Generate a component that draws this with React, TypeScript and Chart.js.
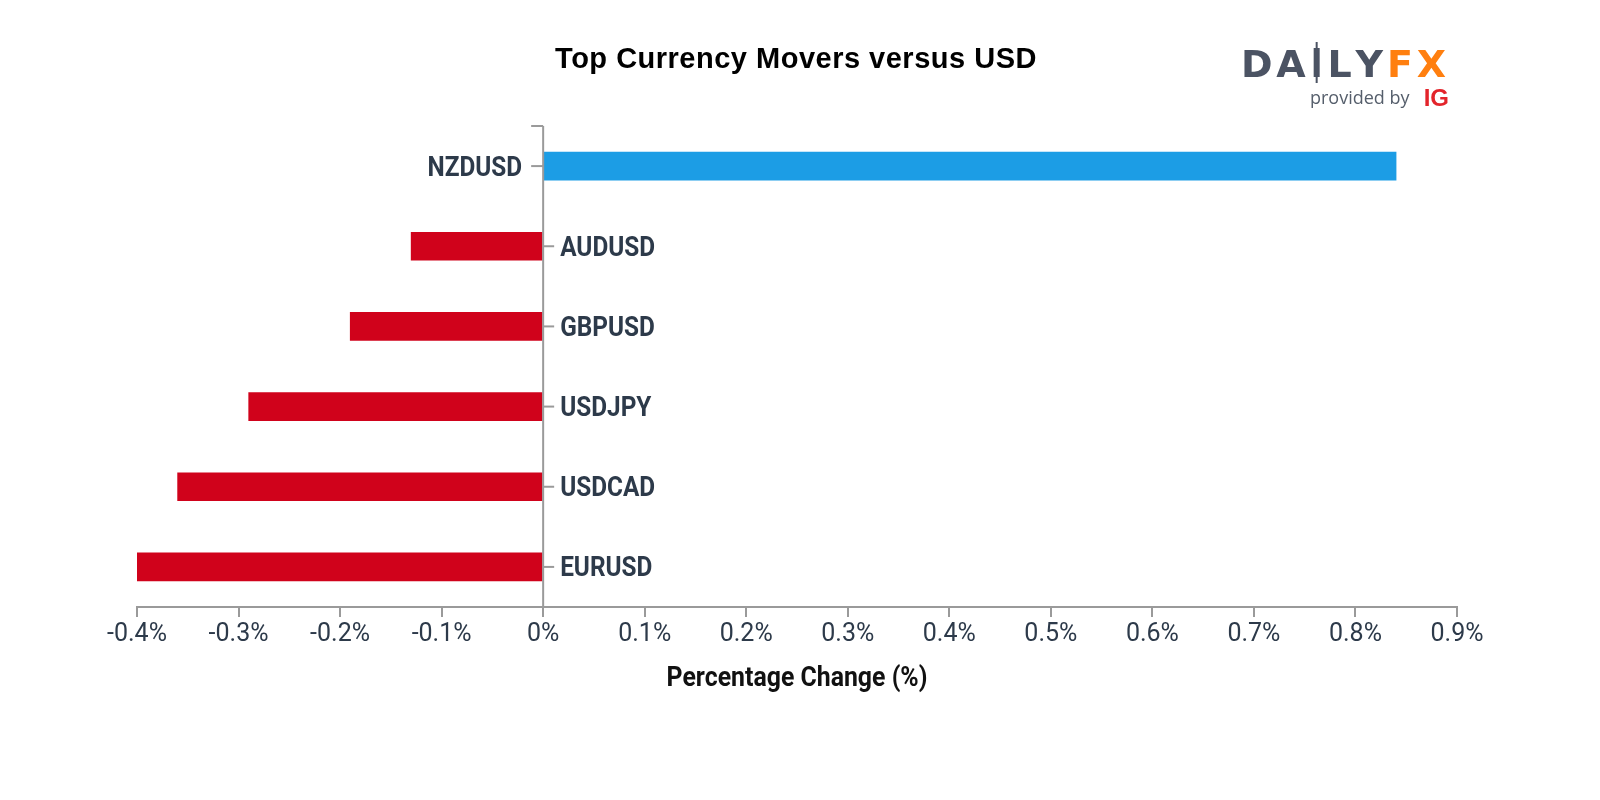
import { useEffect, useRef } from 'react';
import { Chart, registerables } from 'chart.js';

Chart.register(...registerables);

const categories = ['NZDUSD', 'AUDUSD', 'GBPUSD', 'USDJPY', 'USDCAD', 'EURUSD'];
const changes = [0.84, -0.13, -0.19, -0.29, -0.36, -0.4];
const xTickLabels = ['-0.4%', '-0.3%', '-0.2%', '-0.1%', '0%', '0.1%', '0.2%', '0.3%', '0.4%', '0.5%', '0.6%', '0.7%', '0.8%', '0.9%'];
const chartTitle = 'Top Currency Movers versus USD';
const xAxisTitle = 'Percentage Change (%)';

const POS_COLOR = '#1c9de5';
const NEG_COLOR = '#d0021b';
const TEXT_COLOR = '#2d3a4a';
const AXIS_COLOR = '#9a9a9a';

function drawScaledText(ctx: CanvasRenderingContext2D, text: string, x: number, y: number, font: string, sx: number, align: 'left' | 'right' | 'center', color: string) {
  ctx.save();
  ctx.font = font;
  ctx.fillStyle = color;
  ctx.textBaseline = 'alphabetic';
  const w = ctx.measureText(text).width * sx;
  const left = align === 'left' ? x : align === 'right' ? x - w : x - w / 2;
  ctx.translate(left, y);
  ctx.scale(sx, 1);
  ctx.textAlign = 'left';
  ctx.fillText(text, 0, 0);
  ctx.restore();
}

const overlayPlugin = {
  id: 'overlay',
  afterDraw(chart: any) {
    const ctx: CanvasRenderingContext2D = chart.ctx;
    const { chartArea } = chart;
    const xs = chart.scales.x;
    const ys = chart.scales.y;
    const zeroX = xs.getPixelForValue(0);

    // vertical zero axis
    ctx.save();
    ctx.strokeStyle = AXIS_COLOR;
    ctx.lineWidth = 2;
    ctx.beginPath();
    ctx.moveTo(zeroX, chartArea.top);
    ctx.lineTo(zeroX, chartArea.bottom);
    ctx.moveTo(zeroX - 12, chartArea.top);
    ctx.lineTo(zeroX, chartArea.top);
    ctx.stroke();

    categories.forEach((cat, i) => {
      const yp = ys.getPixelForValue(i);
      const v = changes[i];
      ctx.beginPath();
      if (v >= 0) {
        ctx.moveTo(zeroX - 12, yp);
        ctx.lineTo(zeroX, yp);
      } else {
        ctx.moveTo(zeroX, yp);
        ctx.lineTo(zeroX + 11, yp);
      }
      ctx.stroke();
      const font = 'bold 28px Roboto';
      if (v >= 0) drawScaledText(ctx, cat, zeroX - 21, yp + 9.5, font, 0.87, 'right', TEXT_COLOR);
      else drawScaledText(ctx, cat, zeroX + 17, yp + 9.5, font, 0.87, 'left', TEXT_COLOR);
    });
    ctx.restore();

    // chart title
    ctx.save();
    ctx.font = 'bold 29px "Liberation Sans"';
    (ctx as any).letterSpacing = '0.5px';
    ctx.fillStyle = '#000';
    ctx.textAlign = 'center';
    ctx.textBaseline = 'alphabetic';
    ctx.fillText(chartTitle, 796, 68);
    ctx.restore();

    // x axis title
    drawScaledText(ctx, xAxisTitle, (chartArea.left + chartArea.right) / 2, 686, 'bold 27px Roboto', 0.92, 'center', '#111');

    // logo
    ctx.save();
    const logoFont = 'bold 38px "DejaVu Sans"';
    ctx.font = logoFont;
    ctx.textBaseline = 'alphabetic';
    ctx.textAlign = 'left';
    const letters = 'DAILYFX'.split('');
    const widths = letters.map((l) => ctx.measureText(l).width);
    const total = widths.reduce((a, b) => a + b, 0);
    const span = 1446 - 1241;
    const gap = (span - total) / (letters.length - 1);
    let cx = 1241;
    letters.forEach((l, i) => {
      ctx.fillStyle = i >= 5 ? '#ff7f0f' : '#4b5363';
      if (l === 'I') {
        const w = widths[i];
        ctx.fillRect(cx + w / 2 - 3, 48, 6, 29);
        ctx.fillRect(cx + w / 2 - 1, 42, 2, 41);
      } else {
        ctx.fillText(l, cx, 77);
      }
      cx += widths[i] + gap;
    });
    ctx.font = '18px "Open Sans"';
    ctx.fillStyle = '#555e6b';
    ctx.fillText('provided by', 1310, 104);
    ctx.font = 'bold 24px "Liberation Sans"';
    ctx.fillStyle = '#e3242b';
    ctx.textAlign = 'right';
    ctx.fillText('IG', 1449, 106);
    ctx.restore();
  },
};

export default function App() {
  const canvasRef = useRef<HTMLCanvasElement | null>(null);

  useEffect(() => {
    if (!canvasRef.current) return;
    const chart = new Chart(canvasRef.current, {
      type: 'bar',
      data: {
        labels: categories,
        datasets: [
          {
            data: changes,
            backgroundColor: changes.map((v) => (v >= 0 ? POS_COLOR : NEG_COLOR)),
            barThickness: 28,
            borderWidth: 0,
          },
        ],
      },
      options: {
        indexAxis: 'y',
        animation: false,
        responsive: false,
        layout: { padding: { left: 137, right: 143, top: 126, bottom: 73 } },
        plugins: { legend: { display: false }, tooltip: { enabled: false }, title: { display: false } },
        scales: {
          x: {
            type: 'linear',
            min: -0.4,
            max: 0.9,
            afterFit: (s: any) => {
              s.height = 120;
            },
            grid: { drawOnChartArea: false, drawTicks: true, tickLength: 10, color: AXIS_COLOR, lineWidth: 2 },
            border: { display: true, color: AXIS_COLOR, width: 2 },
            ticks: {
              stepSize: 0.1,
              padding: 3,
              color: TEXT_COLOR,
              font: { family: 'Roboto', size: 25 },
              maxRotation: 0,
              autoSkip: false,
              callback: (_v: any, i: number) => xTickLabels[i] ?? '',
            },
          },
          y: {
            type: 'category',
            display: false,
            offset: true,
            grid: { display: false },
          },
        },
      },
      plugins: [overlayPlugin],
    });
    return () => chart.destroy();
  }, []);

  return (
    <div style={{ position: 'fixed', left: 0, top: 0, width: 1600, height: 800, background: '#fff' }}>
      <canvas ref={canvasRef} width={1600} height={800} />
    </div>
  );
}
